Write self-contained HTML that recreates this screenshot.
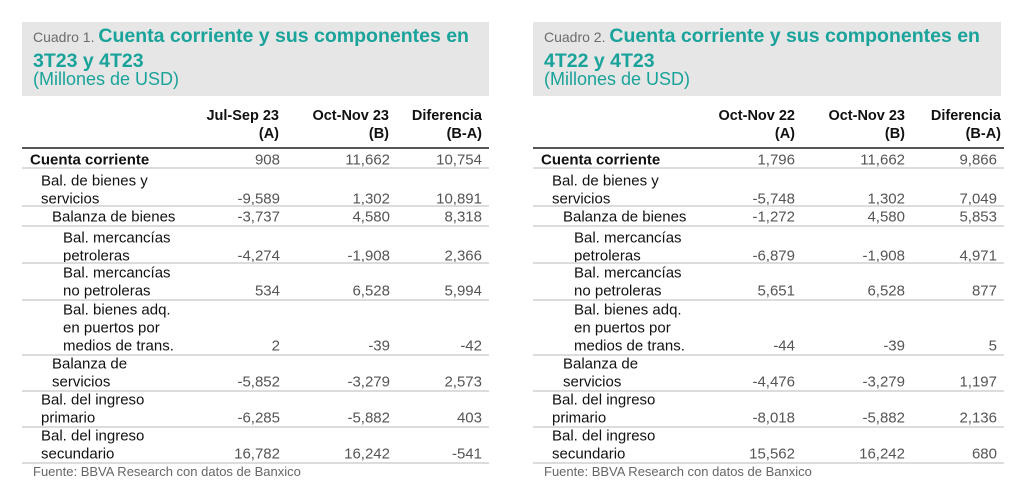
<!DOCTYPE html>
<html><head><meta charset="utf-8"><style>
body{margin:0;width:1024px;height:490px;background:#fff;position:relative;overflow:hidden;font-family:"Liberation Sans",sans-serif;}
.p{position:absolute;top:0;width:490px;height:490px;}
.box{position:absolute;left:0;top:22px;width:467px;height:74px;background:#e6e6e6;}
.t{position:absolute;left:11px;color:#1aa39a;white-space:nowrap;}
.c{color:#6b6b6b;font-size:14px;font-weight:normal;}
.h{position:absolute;top:107px;font-size:14.5px;font-weight:bold;line-height:18px;text-align:right;color:#111;}
.hl{position:absolute;top:147px;left:0;width:467px;height:2px;background:#555;}
.s{position:absolute;left:0;width:467px;height:2px;background:#dcdcdc;}
.r{position:absolute;left:0;width:467px;font-size:15px;line-height:18px;color:#111;transform:translateY(1.5px);}
.n{position:absolute;bottom:0;color:#555;text-align:right;}
.a{right:209px}.b{right:99px}.d{right:7px}
.f{position:absolute;top:464px;left:11px;font-size:13px;color:#666;}
</style></head><body>

<div class="p" style="left:22px">
<div class="box"></div>
<div class="t" style="top:24px;font-size:19.5px;font-weight:bold;line-height:24px"><span class="c">Cuadro 1. </span>Cuenta corriente y sus componentes en<br>3T23 y 4T23</div>
<div class="t" style="top:69px;font-size:18px;line-height:21px">(Millones de USD)</div>
<div class="h" style="right:233px">Jul-Sep 23<br>(A)</div>
<div class="h" style="right:123px">Oct-Nov 23<br>(B)</div>
<div class="h" style="right:30px">Diferencia<br>(B-A)</div>
<div class="hl"></div>
<div class="r" style="top:150px;height:18px"><div style="padding-left:8px;font-weight:bold">Cuenta corriente</div><span class="n a">908</span><span class="n b">11,662</span><span class="n d">10,754</span></div>
<div class="s" style="top:167px"></div>
<div class="r" style="top:171px;height:36px"><div style="padding-left:19px">Bal. de bienes y<br>servicios</div><span class="n a">-9,589</span><span class="n b">1,302</span><span class="n d">10,891</span></div>
<div class="s" style="top:205px"></div>
<div class="r" style="top:207px;height:18px"><div style="padding-left:30px">Balanza de bienes</div><span class="n a">-3,737</span><span class="n b">4,580</span><span class="n d">8,318</span></div>
<div class="s" style="top:225px"></div>
<div class="r" style="top:228px;height:36px"><div style="padding-left:41px">Bal. mercancías<br>petroleras</div><span class="n a">-4,274</span><span class="n b">-1,908</span><span class="n d">2,366</span></div>
<div class="s" style="top:262px"></div>
<div class="r" style="top:263px;height:36px"><div style="padding-left:41px">Bal. mercancías<br>no petroleras</div><span class="n a">534</span><span class="n b">6,528</span><span class="n d">5,994</span></div>
<div class="s" style="top:299px"></div>
<div class="r" style="top:300px;height:54px"><div style="padding-left:41px">Bal. bienes adq.<br>en puertos por<br>medios de trans.</div><span class="n a">2</span><span class="n b">-39</span><span class="n d">-42</span></div>
<div class="s" style="top:354px"></div>
<div class="r" style="top:354px;height:36px"><div style="padding-left:30px">Balanza de<br>servicios</div><span class="n a">-5,852</span><span class="n b">-3,279</span><span class="n d">2,573</span></div>
<div class="s" style="top:390px"></div>
<div class="r" style="top:390px;height:36px"><div style="padding-left:19px">Bal. del ingreso<br>primario</div><span class="n a">-6,285</span><span class="n b">-5,882</span><span class="n d">403</span></div>
<div class="s" style="top:426px"></div>
<div class="r" style="top:426px;height:36px"><div style="padding-left:19px">Bal. del ingreso<br>secundario</div><span class="n a">16,782</span><span class="n b">16,242</span><span class="n d">-541</span></div>
<div class="s" style="top:462px"></div>
<div class="f">Fuente: BBVA Research con datos de Banxico</div>
</div>

<div class="p" style="left:533px">
<div class="box" style="width:468px"></div>
<div class="t" style="top:24px;font-size:19.5px;font-weight:bold;line-height:24px"><span class="c">Cuadro 2. </span>Cuenta corriente y sus componentes en<br>4T22 y 4T23</div>
<div class="t" style="top:69px;font-size:18px;line-height:21px">(Millones de USD)</div>
<div class="h" style="right:228px">Oct-Nov 22<br>(A)</div>
<div class="h" style="right:118px">Oct-Nov 23<br>(B)</div>
<div class="h" style="right:22px">Diferencia<br>(B-A)</div>
<div class="hl" style="width:471px"></div>
<div class="r" style="top:150px;height:18px;width:471px"><div style="padding-left:8px;font-weight:bold">Cuenta corriente</div><span class="n a">1,796</span><span class="n b">11,662</span><span class="n d">9,866</span></div>
<div class="s" style="top:167px;width:471px"></div>
<div class="r" style="top:171px;height:36px;width:471px"><div style="padding-left:19px">Bal. de bienes y<br>servicios</div><span class="n a">-5,748</span><span class="n b">1,302</span><span class="n d">7,049</span></div>
<div class="s" style="top:205px;width:471px"></div>
<div class="r" style="top:207px;height:18px;width:471px"><div style="padding-left:30px">Balanza de bienes</div><span class="n a">-1,272</span><span class="n b">4,580</span><span class="n d">5,853</span></div>
<div class="s" style="top:225px;width:471px"></div>
<div class="r" style="top:228px;height:36px;width:471px"><div style="padding-left:41px">Bal. mercancías<br>petroleras</div><span class="n a">-6,879</span><span class="n b">-1,908</span><span class="n d">4,971</span></div>
<div class="s" style="top:262px;width:471px"></div>
<div class="r" style="top:263px;height:36px;width:471px"><div style="padding-left:41px">Bal. mercancías<br>no petroleras</div><span class="n a">5,651</span><span class="n b">6,528</span><span class="n d">877</span></div>
<div class="s" style="top:299px;width:471px"></div>
<div class="r" style="top:300px;height:54px;width:471px"><div style="padding-left:41px">Bal. bienes adq.<br>en puertos por<br>medios de trans.</div><span class="n a">-44</span><span class="n b">-39</span><span class="n d">5</span></div>
<div class="s" style="top:354px;width:471px"></div>
<div class="r" style="top:354px;height:36px;width:471px"><div style="padding-left:30px">Balanza de<br>servicios</div><span class="n a">-4,476</span><span class="n b">-3,279</span><span class="n d">1,197</span></div>
<div class="s" style="top:390px;width:471px"></div>
<div class="r" style="top:390px;height:36px;width:471px"><div style="padding-left:19px">Bal. del ingreso<br>primario</div><span class="n a">-8,018</span><span class="n b">-5,882</span><span class="n d">2,136</span></div>
<div class="s" style="top:426px;width:471px"></div>
<div class="r" style="top:426px;height:36px;width:471px"><div style="padding-left:19px">Bal. del ingreso<br>secundario</div><span class="n a">15,562</span><span class="n b">16,242</span><span class="n d">680</span></div>
<div class="s" style="top:462px;width:471px"></div>
<div class="f">Fuente: BBVA Research con datos de Banxico</div>
</div>
</body></html>
